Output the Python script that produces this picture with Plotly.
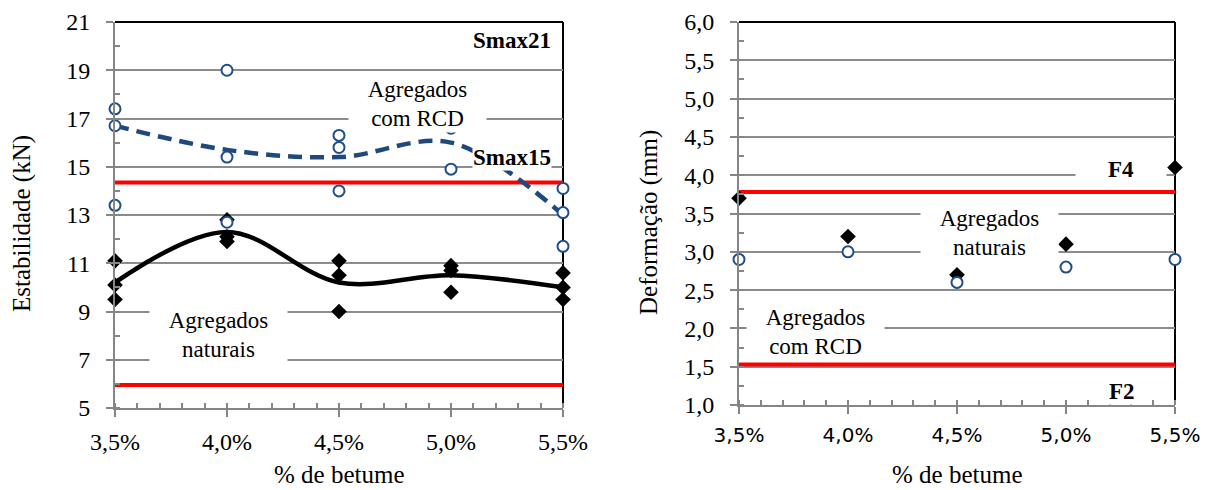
import plotly.graph_objects as go

# ---------------- data ----------------
betume = [3.5, 4.0, 4.5, 5.0, 5.5]
betume_labels = ["3,5%", "4,0%", "4,5%", "5,0%", "5,5%"]

# Estabilidade (kN) - individual specimens
est_nat_x = [3.5, 3.5, 3.5, 4.0, 4.0, 4.0, 4.5, 4.5, 4.5, 5.0, 5.0, 5.0, 5.5, 5.5, 5.5]
est_nat_y = [11.1, 10.1, 9.5, 12.8, 12.1, 11.9, 11.1, 10.5, 9.0, 10.9, 10.7, 9.8, 10.6, 10.0, 9.5]
est_rcd_x = [3.5, 3.5, 3.5, 4.0, 4.0, 4.0, 4.5, 4.5, 4.5, 5.0, 5.0, 5.5, 5.5, 5.5]
est_rcd_y = [17.4, 16.7, 13.4, 19.0, 15.4, 12.7, 16.3, 15.8, 14.0, 16.6, 14.9, 14.1, 13.1, 11.7]
est_nat_curve = [10.2, 12.3, 10.2, 10.5, 10.0]
est_rcd_curve = [16.7, 15.7, 15.4, 16.0, 13.0]
est_limits = [14.35, 5.95]
est_ticks = [5, 7, 9, 11, 13, 15, 17, 19, 21]
est_ticktext = ["5", "7", "9", "11", "13", "15", "17", "19", "21"]

# Deformação (mm)
def_nat = [3.7, 3.2, 2.7, 3.1, 4.1]
def_rcd = [2.9, 3.0, 2.6, 2.8, 2.9]
def_limits = [3.78, 1.53]
def_ticks = [1.0, 1.5, 2.0, 2.5, 3.0, 3.5, 4.0, 4.5, 5.0, 5.5, 6.0]
def_ticktext = ["1,0", "1,5", "2,0", "2,5", "3,0", "3,5", "4,0", "4,5", "5,0", "5,5", "6,0"]

# ---------------- styles ----------------
SERIF = "Liberation Serif"
SANS = "DejaVu Sans"
AXIS_GRAY = "#868686"
GRID_GRAY = "#8c8c8c"
BLUE = "#1F4E8C"
DASH_BLUE = "#1F497D"
RED = "#FF0000"

# page body has an 8px margin: figure is laid out in page pixels minus that offset
OFF = 8
W, H = 1216 - OFF, 490 - OFF


def fx(px):
    return (px - OFF) / W


def fy(py):
    return 1 - (py - OFF) / H


fig = go.Figure()

# ----- left chart -----
for lim in est_limits:
    fig.add_trace(go.Scatter(x=[betume[0], betume[-1]], y=[lim, lim], mode="lines",
                             line=dict(color=RED, width=4), xaxis="x", yaxis="y",
                             showlegend=False, hoverinfo="skip"))
fig.add_trace(go.Scatter(x=betume, y=est_nat_curve, mode="lines",
                         line=dict(color="black", width=4.5, shape="spline", smoothing=1),
                         xaxis="x", yaxis="y", showlegend=False, cliponaxis=False))
fig.add_trace(go.Scatter(x=betume, y=est_rcd_curve, mode="lines",
                         line=dict(color=DASH_BLUE, width=4.5, shape="spline", smoothing=1, dash="14px,8px"),
                         xaxis="x", yaxis="y", showlegend=False, cliponaxis=False))
fig.add_trace(go.Scatter(x=est_nat_x, y=est_nat_y, mode="markers",
                         marker=dict(symbol="diamond", size=12, color="black"),
                         xaxis="x", yaxis="y", showlegend=False, cliponaxis=False))
fig.add_trace(go.Scatter(x=est_rcd_x, y=est_rcd_y, mode="markers",
                         marker=dict(symbol="circle", size=11, color="white",
                                     line=dict(color=BLUE, width=2)),
                         xaxis="x", yaxis="y", showlegend=False, cliponaxis=False))

# ----- right chart -----
for lim in def_limits:
    fig.add_trace(go.Scatter(x=[betume[0], betume[-1]], y=[lim, lim], mode="lines",
                             line=dict(color=RED, width=4), xaxis="x2", yaxis="y2",
                             showlegend=False, hoverinfo="skip"))
fig.add_trace(go.Scatter(x=betume, y=def_nat, mode="markers",
                         marker=dict(symbol="diamond", size=12, color="black"),
                         xaxis="x2", yaxis="y2", showlegend=False, cliponaxis=False))
fig.add_trace(go.Scatter(x=betume, y=def_rcd, mode="markers",
                         marker=dict(symbol="circle", size=11, color="white",
                                     line=dict(color=BLUE, width=2)),
                         xaxis="x2", yaxis="y2", showlegend=False, cliponaxis=False))


def xaxis_cfg(domain, tickfont, anchor):
    return dict(
        domain=domain, anchor=anchor, range=[betume[0], betume[-1]], automargin=False,
        tickmode="array", tickvals=betume, ticktext=betume_labels,
        tickfont=tickfont, ticks="outside", ticklen=7, tickwidth=1.5, tickcolor=AXIS_GRAY,
        ticklabelstandoff=4,
        showline=True, linecolor=AXIS_GRAY, linewidth=2, showgrid=False, zeroline=False,
        minor=dict(ticks="inside", ticklen=5, tickwidth=1.5, tickcolor=AXIS_GRAY,
                   tick0=3.5, dtick=0.1, showgrid=False),
    )


def yaxis_cfg(domain, rng, ticks, ticktext, minor_dtick, anchor):
    return dict(
        domain=domain, anchor=anchor, range=rng, automargin=False,
        tickmode="array", tickvals=ticks, ticktext=ticktext,
        tickfont=dict(family=SERIF, size=24, color="black"),
        ticks="outside", ticklen=7, tickwidth=1.5, tickcolor=AXIS_GRAY, ticklabelstandoff=11,
        showline=True, linecolor=AXIS_GRAY, linewidth=2,
        showgrid=True, gridcolor=GRID_GRAY, gridwidth=2, zeroline=False,
        minor=dict(ticks="inside", ticklen=5, tickwidth=1.5, tickcolor=AXIS_GRAY,
                   tick0=rng[0], dtick=minor_dtick, showgrid=False),
    )


fig.update_layout(
    width=W, height=H,
    margin=dict(l=0, r=0, t=0, b=0, autoexpand=False),
    paper_bgcolor="white", plot_bgcolor="white",
    showlegend=False,
    font=dict(family=SERIF, color="black"),
    xaxis=xaxis_cfg([fx(115), fx(563)], dict(family=SERIF, size=24, color="black"), "y"),
    yaxis=yaxis_cfg([fy(408), fy(22)], [5, 21], est_ticks, est_ticktext, 1, "x"),
    xaxis2=xaxis_cfg([fx(739), fx(1175)], dict(family=SANS, size=20, color="black"), "y2"),
    yaxis2=yaxis_cfg([fy(405), fy(22)], [1.0, 6.0], def_ticks, def_ticktext, 0.25, "x2"),
)

# black top and right borders
for xr, yr in (("x domain", "y domain"), ("x2 domain", "y2 domain")):
    fig.add_shape(type="line", xref=xr, yref=yr, x0=0, x1=1, y0=1, y1=1,
                  line=dict(color="black", width=2), layer="above")
    fig.add_shape(type="line", xref=xr, yref=yr, x0=1, x1=1, y0=0, y1=1,
                  line=dict(color="black", width=2), layer="below")

# axis titles
TITLE = dict(family=SERIF, size=25, color="black")
for text, px, py, ang in (("Estabilidade (kN)", 22, 224, -90), ("Deformação (mm)", 649, 223, -90),
                          ("% de betume", 339, 474, 0), ("% de betume", 957, 474, 0)):
    fig.add_annotation(text=text, x=fx(px), y=fy(py), xref="paper", yref="paper",
                       xanchor="center", yanchor="middle", textangle=ang, showarrow=False, font=TITLE)

TXT = dict(family=SERIF, size=23, color="black")
BOLD = dict(family=SERIF, size=23, color="black")


def label(text, x, y, xref, yref, font, w=None, h=None, xanchor="center"):
    d = dict(text=text, x=x, y=y, xref=xref, yref=yref, showarrow=False, font=font,
             bgcolor="white", borderpad=0, xanchor=xanchor, yanchor="middle", align="center")
    if w:
        d["width"] = w
    if h:
        d["height"] = h
    fig.add_annotation(**d)


label("Agregados<br>com RCD", 4.85, 17.6, "x", "y", TXT, 137, 56)
label("Agregados<br>naturais", 3.962, 8.03, "x", "y", TXT, 137, 60)
label("<b>Smax21</b>", 5.45, 20.25, "x", "y", BOLD, xanchor="right")
label("<b>Smax15</b>", 5.45, 15.4, "x", "y", BOLD, xanchor="right")
label("<b>Smin7,5</b>", 5.47, 4.57, "x", "y", BOLD, xanchor="right")

label("Agregados<br>naturais", 4.65, 3.25, "x2", "y2", TXT, 137, 60)
label("Agregados<br>com RCD", 3.853, 1.95, "x2", "y2", TXT, 137, 50)
label("<b>F4</b>", 5.252, 4.08, "x2", "y2", BOLD, 90, 30)
label("<b>F2</b>", 5.257, 1.17, "x2", "y2", BOLD)

fig.write_html("out.html")
